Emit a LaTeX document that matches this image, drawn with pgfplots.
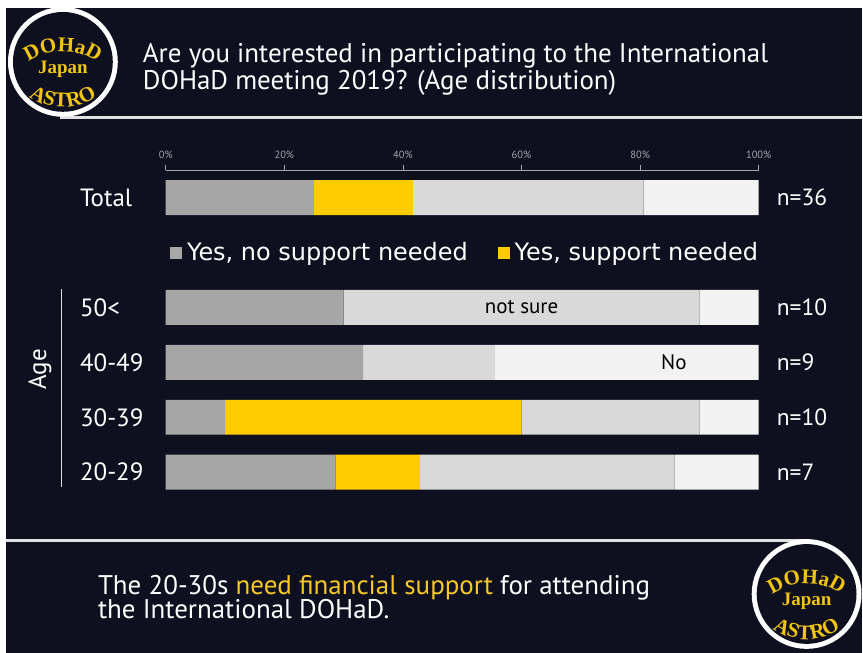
\documentclass[border=0pt]{standalone}
\usepackage{pgfplots}
\pgfplotsset{compat=1.18}
\usepackage{fontspec}
\setmainfont{PT Sans}
\newfontfamily\dejavu{DejaVu Sans}
\newfontfamily\logofont{Liberation Serif}
\usetikzlibrary{decorations.text}
\definecolor{bg}{RGB}{14,16,32}
\definecolor{c1}{RGB}{166,166,166}
\definecolor{c2}{RGB}{255,204,0}
\definecolor{c3}{RGB}{217,217,217}
\definecolor{c4}{RGB}{242,242,242}
\definecolor{logoy}{RGB}{240,196,20}
\definecolor{gold}{RGB}{245,200,40}
\definecolor{tickgray}{RGB}{165,165,170}
\definecolor{linegray}{RGB}{225,225,228}

\newcommand\logo[1]{%
\begin{scope}[shift={#1}]
\fill[white] (0,0) circle (55);
\fill[bg] (0,0) circle (50);
\node[text=logoy, inner sep=0pt, font=\logofont\bfseries\fontsize{19}{19}\selectfont] at (0,-7) {Japan};
\path[decorate, decoration={text along path, text color=logoy, text align=center,
  text={|\logofont\bfseries\fontsize{21}{21}\selectfont|DOHaD}}]
  (-46,-11) arc[start angle=140, end angle=40, radius=60];
\path[decorate, decoration={text along path, text color=logoy, text align=center,
  text={|\logofont\bfseries\fontsize{21}{21}\selectfont|ASTRO}}]
  (-46,-24) arc[start angle=220, end angle=320, radius=60];
\end{scope}}

\begin{document}
\begin{tikzpicture}[x=1pt,y=1pt]
\fill[white] (0,0) rectangle (863,654);
\fill[bg] (6,0) rectangle (863,646);
\draw[linegray, line width=3pt] (60,536) -- (863,536);
\draw[linegray, line width=3pt] (6,113) -- (808,113);
\logo{(63,592)}
\logo{(808,59)}
\begin{scope}[every node/.style={anchor=base west, inner sep=0pt, text=white, font=\fontsize{27}{27}\selectfont}]
\node at (143,591) {Are you interested in participating to the International};
\node at (143,564) {DOHaD meeting 2019? (Age distribution)};
\node at (98,58) {The 20-30s \textcolor{gold}{need financial support} for attending};
\node at (98,34) {the International DOHaD.};
\end{scope}
\node[rotate=90, text=white, font=\fontsize{25}{25}\selectfont] at (40,284) {Age};
\draw[linegray, line width=1pt] (62,364) -- (62,166);

\begin{axis}[
  at={(166pt,153.5pt)}, anchor=south west,
  width=594pt, height=330pt, scale only axis,
  xbar stacked, bar width=35pt,
  xmin=0, xmax=100, ymin=-0.5, ymax=5.5,
  axis x line*=top, axis y line=none,
  ytick=\empty,
  x axis line style={draw=tickgray, line width=0.6pt},
  xtick={0,20,40,60,80,100},
  xticklabel={\pgfmathprintnumber{\tick}\%},
  xticklabel style={text=tickgray, font=\fontsize{10.5}{10.5}\selectfont, yshift=3pt},
  tick style={draw=tickgray, line width=0.6pt},
  major tick length=5pt, tick align=outside,
  /pgf/number format/assume math mode=true,
  legend style={at={(axis cs:0.7,4)}, anchor=west, draw=none, fill=none,
    text=white, font=\dejavu\fontsize{24}{24}\selectfont,
    legend columns=2, inner sep=0pt,
    /tikz/every even column/.append style={column sep=28pt},
    nodes={inner sep=2pt}},
  legend cell align=left,
]
\addplot[fill=c1, draw=none, legend image code/.code={\fill[c1] (0pt,-6pt) rectangle (12pt,6pt);}]
  coordinates {(28.6,0) (10,1) (33.3,2) (30,3) (25,5)};
\addlegendentry{\hspace{3pt}Yes, no support needed}
\addplot[fill=c2, draw=none, legend image code/.code={\fill[c2] (0pt,-6pt) rectangle (12pt,6pt);}]
  coordinates {(14.3,0) (50,1) (0,2) (0,3) (16.7,5)};
\addlegendentry{\hspace{3pt}Yes, support needed}
\addplot[fill=c3, draw=none] coordinates {(42.9,0) (30,1) (22.2,2) (60,3) (38.9,5)};
\addplot[fill=c4, draw=none] coordinates {(14.2,0) (10,1) (44.5,2) (10,3) (19.4,5)};
\coordinate (L5) at (axis cs:0,5);
\coordinate (L3) at (axis cs:0,3);
\coordinate (L2) at (axis cs:0,2);
\coordinate (L1) at (axis cs:0,1);
\coordinate (L0) at (axis cs:0,0);
\coordinate (R5) at (axis cs:100,5);
\coordinate (R3) at (axis cs:100,3);
\coordinate (R2) at (axis cs:100,2);
\coordinate (R1) at (axis cs:100,1);
\coordinate (R0) at (axis cs:100,0);
\coordinate (NS) at (axis cs:60,3);
\coordinate (NO) at (axis cs:85.7,2);
\end{axis}
\begin{scope}[every node/.style={anchor=west, inner sep=0pt, text=white, font=\fontsize{25}{25}\selectfont}]
\node[xshift=-86pt] at (L5) {Total};
\node[xshift=-86pt] at (L3) {50<};
\node[xshift=-86pt] at (L2) {40-49};
\node[xshift=-86pt] at (L1) {30-39};
\node[xshift=-86pt] at (L0) {20-29};
\end{scope}
\begin{scope}[every node/.style={anchor=west, inner sep=0pt, text=white, font=\fontsize{23.5}{23.5}\selectfont}]
\node[xshift=18pt] at (R5) {n=36};
\node[xshift=18pt] at (R3) {n=10};
\node[xshift=18pt] at (R2) {n=9};
\node[xshift=18pt] at (R1) {n=10};
\node[xshift=18pt] at (R0) {n=7};
\end{scope}
\node[text=black, font=\fontsize{21}{21}\selectfont] at (NS) {not sure};
\node[text=black, font=\fontsize{21}{21}\selectfont] at (NO) {No};
\end{tikzpicture}
\end{document}
